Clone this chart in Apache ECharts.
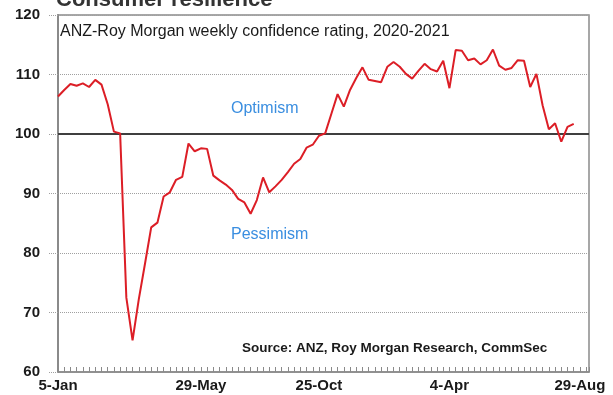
<!DOCTYPE html>
<html>
<head>
<meta charset="utf-8">
<script src="https://cdn.jsdelivr.net/npm/echarts@6/dist/echarts.min.js"></script>
<style>
  html, body { margin: 0; padding: 0; background: #ffffff; }
  #chart { width: 613px; height: 395px; }
</style>
</head>
<body>
<div id="chart"></div>
<script>
// Weekly ANZ-Roy Morgan consumer confidence readings, Jan 2020 to Aug 2021
const confidence = [
  106.3, 107.4, 108.4, 108.1, 108.5, 107.9, 109.1, 108.3, 105.0, 100.4,
  100.1, 72.5, 65.3, 72.2, 78.2, 84.3, 85.1, 89.5, 90.2, 92.3,
  92.8, 98.4, 97.1, 97.6, 97.5, 93.0, 92.2, 91.5, 90.6, 89.1,
  88.5, 86.6, 88.9, 92.7, 90.2, 91.2, 92.3, 93.6, 95.0, 95.8,
  97.7, 98.2, 99.7, 100.1, 103.4, 106.7, 104.6, 107.4, 109.4, 111.2,
  109.1, 108.9, 108.7, 111.3, 112.1, 111.3, 110.1, 109.3, 110.6, 111.8,
  110.9, 110.5, 112.3, 107.7, 114.1, 114.0, 112.4, 112.7, 111.7, 112.4,
  114.2, 111.5, 110.8, 111.1, 112.4, 112.3, 107.9, 110.1, 104.8, 100.8,
  101.8, 98.7, 101.2, 101.7
];

// Date labels along the bottom and the survey week each one sits at
const tickLabels = ['5-Jan', '29-May', '25-Oct', '4-Apr', '29-Aug'];
const tickWeeks = [0, 23, 42, 63, 84];

// Y-axis range and step
const yMin = 60, yMax = 120, yStep = 10;
const neutralLevel = 100;

const FONT = '"Liberation Sans", Arial, sans-serif';

const seriesData = confidence.map((v, i) => [i, v]);

const chart = echarts.init(document.getElementById('chart'), null, { renderer: 'canvas' });

function note(text, left, top, size, weight, color) {
  return {
    text, left, top, padding: 0,
    textStyle: { fontFamily: FONT, fontSize: size, fontWeight: weight, color }
  };
}

chart.setOption({
  animation: false,
  backgroundColor: '#ffffff',
  textStyle: { fontFamily: FONT },
  title: [
    note('Consumer resilience', 56, -11, 22, 'bold', '#333333'),
    note('ANZ-Roy Morgan weekly confidence rating, 2020-2021', 60, 24, 16, 'normal', '#1a1a1a'),
    note('Optimism', 231, 101, 16, 'normal', '#3a8ee0'),
    note('Pessimism', 231, 227, 16, 'normal', '#3a8ee0'),
    note('Source: ANZ, Roy Morgan Research, CommSec', 242, 341, 13.5, 'bold', '#1a1a1a')
  ],
  grid: {
    left: 58, right: 24, top: 15, bottom: 23,
    show: true,
    borderColor: '#8a8a8a',
    borderWidth: 1.5,
    containLabel: false
  },
  xAxis: {
    type: 'value',
    min: 0,
    max: 85.46,
    interval: 1,
    axisLine: { show: true, lineStyle: { color: '#8a8a8a', width: 1.5 } },
    axisTick: { show: true, inside: true, length: 5, lineStyle: { color: '#8a8a8a', width: 1 } },
    splitLine: { show: false },
    axisLabel: {
      customValues: tickWeeks,
      margin: 6,
      fontFamily: FONT,
      fontSize: 15,
      fontWeight: 'bold',
      color: '#1a1a1a',
      formatter: (v) => {
        const k = tickWeeks.indexOf(v);
        return k >= 0 ? tickLabels[k] : '';
      }
    }
  },
  yAxis: {
    type: 'value',
    min: yMin,
    max: yMax,
    interval: yStep,
    axisLine: { show: true, lineStyle: { color: '#8a8a8a', width: 2 } },
    axisTick: { show: true, inside: false, length: 9, lineStyle: { color: '#a0a0a0', type: 'dotted', width: 1 } },
    splitLine: { show: true, lineStyle: { color: '#a0a0a0', type: 'dotted', width: 1 } },
    axisLabel: {
      margin: 18,
      fontFamily: FONT,
      fontSize: 15,
      fontWeight: 'bold',
      color: '#1a1a1a'
    }
  },
  series: [
    {
      type: 'line',
      data: seriesData,
      showSymbol: false,
      symbol: 'none',
      lineStyle: { color: '#dc1e26', width: 2 },
      z: 3,
      markLine: {
        silent: true,
        symbol: ['none', 'none'],
        label: { show: false },
        lineStyle: { color: '#3f3f3f', width: 2, type: 'solid' },
        z: 2,
        data: [{ yAxis: neutralLevel }]
      }
    }
  ]
});
</script>
</body>
</html>
